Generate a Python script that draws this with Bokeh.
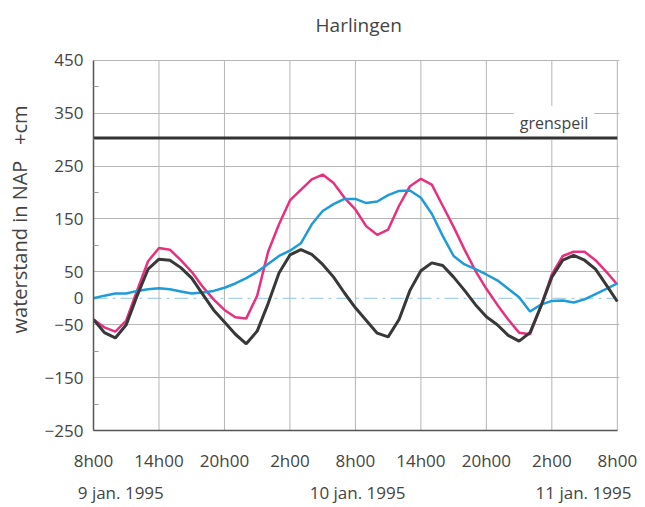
from bokeh.plotting import figure
from bokeh.models import Range1d, FixedTicker, LinearAxis
from bokeh.core.properties import value
from bokeh.embed import file_html
from bokeh.resources import INLINE

# ---- data (hours since 9 jan. 1995 8h00, water level in cm NAP) ----
hours = list(range(0, 49))
astro = [-40, -65, -75, -50, 5, 55, 74, 72, 58, 38, 8, -22, -45, -68, -86, -62,
         -10, 48, 82, 92, 83, 64, 40, 10, -18, -42, -66, -73, -40, 15, 52, 67,
         62, 40, 15, -12, -35, -50, -70, -81, -65, -15, 40, 72, 81, 72, 55, 25, -6]
measured = [-40, -55, -63, -42, 15, 70, 95, 92, 72, 50, 22, -2, -22, -36, -38, 5,
            88, 140, 185, 205, 225, 234, 218, 190, 168, 136, 120, 130, 175, 212, 226, 215,
            175, 135, 92, 52, 18, -12, -40, -65, -68, -15, 45, 80, 88, 88, 72, 50, 26]
surge = [0, 5, 9, 9, 14, 17, 19, 17, 13, 9, 11, 14, 20, 28, 38, 50,
         65, 80, 90, 104, 140, 165, 178, 188, 188, 180, 183, 195, 203, 204, 190, 160,
         118, 80, 64, 55, 45, 34, 18, 2, -25, -12, -5, -4, -8, -2, 8, 18, 28]
grenspeil = 303

x_ticks = [0, 6, 12, 18, 24, 30, 36, 42, 48]
x_tick_labels = ["8h00", "14h00", "20h00", "2h00", "8h00", "14h00", "20h00", "2h00", "8h00"]
y_ticks = [-250, -150, -50, 0, 50, 150, 250, 350, 450]
y_minor = [-200, -100, 100, 200, 300, 400]
y_grid = [-250, -150, -50, 50, 150, 250, 350, 450]
date_labels = ["9 jan. 1995", "10 jan. 1995", "11 jan. 1995"]
date_pos = [2.5, 24.2, 44.9]
title_text = "Harlingen"

FONT = "Open Sans"
TXT = "#444444"
GRID = "#b5b5b5"

y_lo, y_hi = y_ticks[0], y_ticks[-1]
x_lo, x_hi = x_ticks[0], x_ticks[-1]

# frame extends above the chart area so the title can sit inside it
p = figure(width=645, height=507, output_backend="svg", toolbar_location=None,
           x_range=Range1d(x_lo, x_hi + 0.2), y_range=Range1d(y_lo, 548),
           min_border_left=93, min_border_right=26, min_border_top=8,
           min_border_bottom=77, background_fill_color="white",
           border_fill_color="white")
p.outline_line_color = None

# title
p.text(x=[24.3], y=[516], text=[title_text], text_font=value(FONT),
       text_font_size="19px", text_color=TXT, text_align="center",
       text_baseline="middle")

# grid
p.xgrid.visible = False
p.segment(x0=x_ticks, y0=[y_lo] * len(x_ticks), x1=x_ticks, y1=[y_hi] * len(x_ticks),
          line_color=GRID, line_width=1)
p.ygrid.ticker = FixedTicker(ticks=y_grid)
p.ygrid.bounds = (x_lo, x_hi)
p.ygrid.grid_line_color = GRID
p.ygrid.grid_line_width = 1

# y axis
ya = p.yaxis[0]
ya.ticker = FixedTicker(ticks=y_ticks, minor_ticks=y_minor)
ya.bounds = (y_lo, y_hi)
ya.major_tick_out = 0
ya.major_tick_in = 0
ya.minor_tick_in = 5
ya.minor_tick_out = 0
ya.minor_tick_line_color = "#999999"
ya.axis_line_color = "#555555"
ya.axis_line_width = 1.5
ya.major_label_text_font = FONT
ya.major_label_text_font_size = "17px"
ya.major_label_text_color = TXT
ya.major_label_standoff = 10
ya.axis_label = "waterstand in NAP\u00a0\u00a0\u00a0+cm"
ya.axis_label_text_font = FONT
ya.axis_label_text_font_size = "20px"
ya.axis_label_text_font_style = "normal"
ya.axis_label_text_color = TXT
ya.axis_label_standoff = 9

# x axis (hours)
xa = p.xaxis[0]
xa.ticker = FixedTicker(ticks=x_ticks)
xa.bounds = (x_lo, x_hi)
xa.major_label_overrides = {float(t): l for t, l in zip(x_ticks, x_tick_labels)}
xa.major_tick_out = 0
xa.major_tick_in = 0
xa.axis_line_color = "#555555"
xa.axis_line_width = 1.5
xa.major_label_text_font = FONT
xa.major_label_text_font_size = "17px"
xa.major_label_text_color = TXT
xa.major_label_standoff = 18

# second x axis (dates)
da = LinearAxis(ticker=FixedTicker(ticks=date_pos))
da.major_label_overrides = {float(t): l for t, l in zip(date_pos, date_labels)}
da.major_tick_out = 0
da.major_tick_in = 0
da.axis_line_color = None
da.major_label_text_font = FONT
da.major_label_text_font_size = "17px"
da.major_label_text_color = TXT
da.major_label_standoff = 6
p.add_layout(da, "below")

# grenspeil label (white box hides the grid behind it), then the lines
p.text(x=[42.2], y=[grenspeil], text=["grenspeil"], text_font=value(FONT),
       text_font_size="16px", text_color=TXT, text_align="center",
       text_baseline="bottom", y_offset=2,
       background_fill_color="white", padding=6)
p.line(x=[x_lo, x_hi], y=[0, 0], line_color="#8fc6dc", line_width=1,
       line_dash="14 5 3 5")
p.line(x=[x_lo, x_hi], y=[grenspeil, grenspeil], line_color="#333333", line_width=3)

# series
p.line(hours, measured, line_color="#e8307f", line_width=2.5)
p.line(hours, surge, line_color="#1f9bd8", line_width=2.5)
p.line(hours, astro, line_color="#383838", line_width=3)

open("out.html", "w").write(file_html(p, INLINE))
